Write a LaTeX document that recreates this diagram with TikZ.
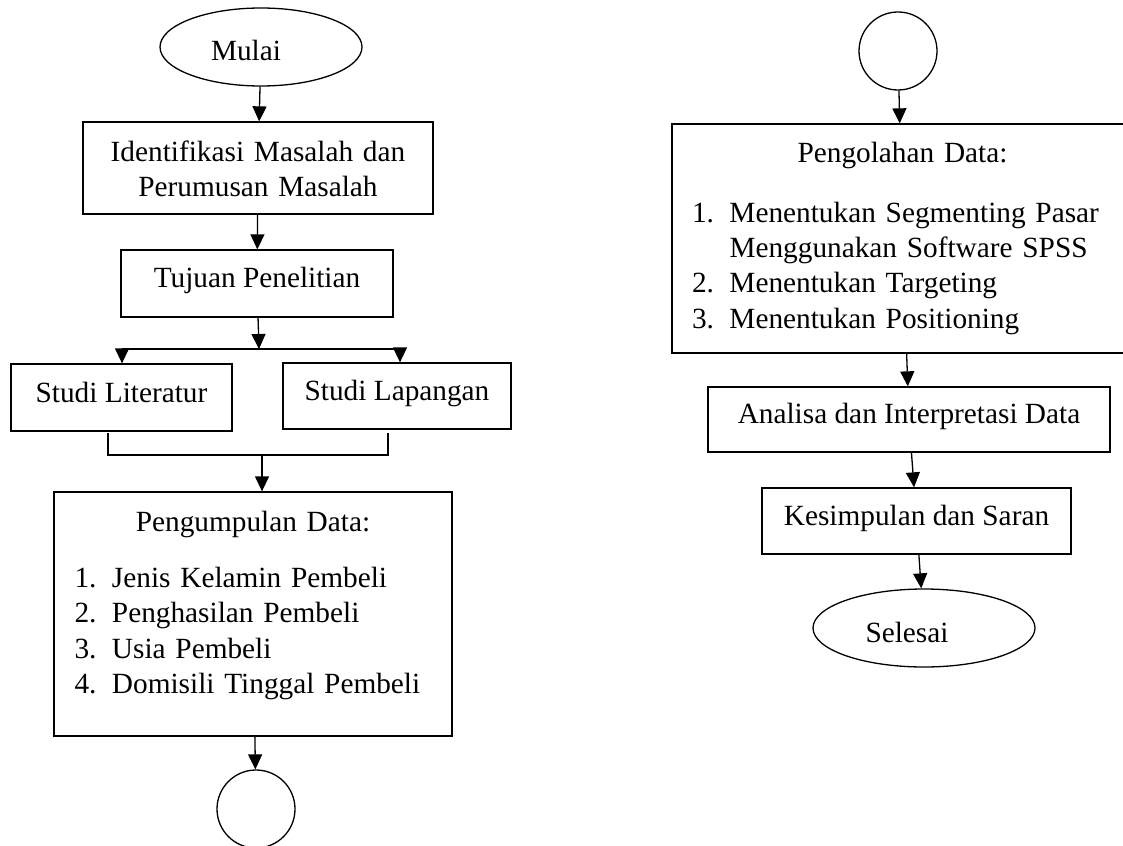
\documentclass[tikz,border=0pt]{standalone}
\usepackage{fontspec}
\setmainfont{Liberation Serif}
\usetikzlibrary{arrows.meta,shapes.geometric}
\newcommand{\nomor}[1]{\makebox[37.5pt][l]{#1}}

\begin{document}
\begin{tikzpicture}[x=1pt, y=-1pt, line width=1.3pt,
    every node/.style={draw, black, font=\fontsize{29.3pt}{35.5pt}\selectfont},
    kotak/.style={rectangle, inner xsep=10pt, inner ysep=0pt, text height=37pt, text depth=29pt},
    terminal/.style={ellipse, minimum width=#1, minimum height=78pt, inner sep=0pt, text height=28pt, text depth=0pt},
    sambung/.style={circle, minimum size=78pt, inner sep=0pt},
    panah/.style={-{Triangle[length=15pt,width=14pt]}}]
    \useasboundingbox (0,0) rectangle (1123,845);

    \node[terminal=202pt] (mulai) at (261,47) {Mulai\hspace*{30pt}};
    \node[kotak, text width=330pt, align=center, text height=39pt, text depth=53pt] (identifikasi) at (258,168) {Identifikasi Masalah dan\\Perumusan Masalah};
    \node[kotak, minimum width=272pt, text depth=30pt] (tujuan) at (257,283.5) {Tujuan Penelitian};
    \node[kotak, minimum width=221pt, text height=38pt] (literatur) at (121.5,397.5) {Studi Literatur};
    \node[kotak, minimum width=228pt] (lapangan) at (397,396) {Studi Lapangan};
    \node[kotak, text width=378pt, align=left, text height=39pt, text depth=205pt] (kumpul) at (253,614) {{\centering Pengumpulan Data:\par}\vspace{20.5pt}
      {\leftskip=10.5pt
      \nomor{1.}Jenis Kelamin Pembeli\\
      \nomor{2.}Penghasilan Pembeli\\
      \nomor{3.}Usia Pembeli\\
      \nomor{4.}Domisili Tinggal Pembeli\par}};
    \node[sambung] (sambungkiri) at (256,809) {};

    \node[sambung] (sambungkanan) at (898,51) {};
    \node[kotak, text width=441pt, align=left, text height=39pt, text depth=190pt] (olah) at (902.5,238.5) {{\centering Pengolahan Data:\par}\vspace{23.5pt}
      {\leftskip=10pt
      \nomor{1.}Menentukan Segmenting Pasar\\
      \nomor{}Menggunakan Software SPSS\\
      \nomor{2.}Menentukan Targeting\\
      \nomor{3.}Menentukan Positioning\par}};
    \node[kotak, minimum width=402pt, text height=36pt] (analisa) at (909,419.5) {Analisa dan Interpretasi Data};
    \node[kotak, minimum width=309pt] (kesimpulan) at (916.5,521) {Kesimpulan dan Saran};
    \node[terminal=222pt] (selesai) at (924,628) {Selesai\hspace*{34pt}};

    \coordinate (cabang) at (259,349);
    \coordinate (cabangkiri) at (122,349);
    \coordinate (cabangkanan) at (400,349);
    \coordinate (cabangujung) at (405,349);
    \coordinate (ujungkiri) at (108,433);
    \coordinate (ujungkanan) at (388,433);
    \coordinate (gabungkiri) at (108,455);
    \coordinate (gabungkanan) at (388,455);
    \coordinate (gabung) at (262,455);

    \draw[panah] (mulai) -- (identifikasi);
    \draw[panah] (identifikasi) -- (tujuan);
    \draw[panah] (tujuan) -- (cabang);
    \draw (cabangkiri) -- (cabangujung);
    \draw[panah] (cabangkiri) -- (cabangkiri |- literatur.north);
    \draw[panah] (cabangkanan) -- (cabangkanan |- lapangan.north);
    \draw (ujungkiri) -- (gabungkiri) -- (gabungkanan) -- (ujungkanan);
    \draw[panah] (gabung) -- (gabung |- kumpul.north);
    \draw[panah] (kumpul) -- (sambungkiri);

    \draw[panah] (sambungkanan) -- (olah);
    \draw[panah] (olah) -- (analisa);
    \draw[panah] (analisa) -- (kesimpulan);
    \draw[panah] (kesimpulan) -- (selesai);
  \end{tikzpicture}
\end{document}
